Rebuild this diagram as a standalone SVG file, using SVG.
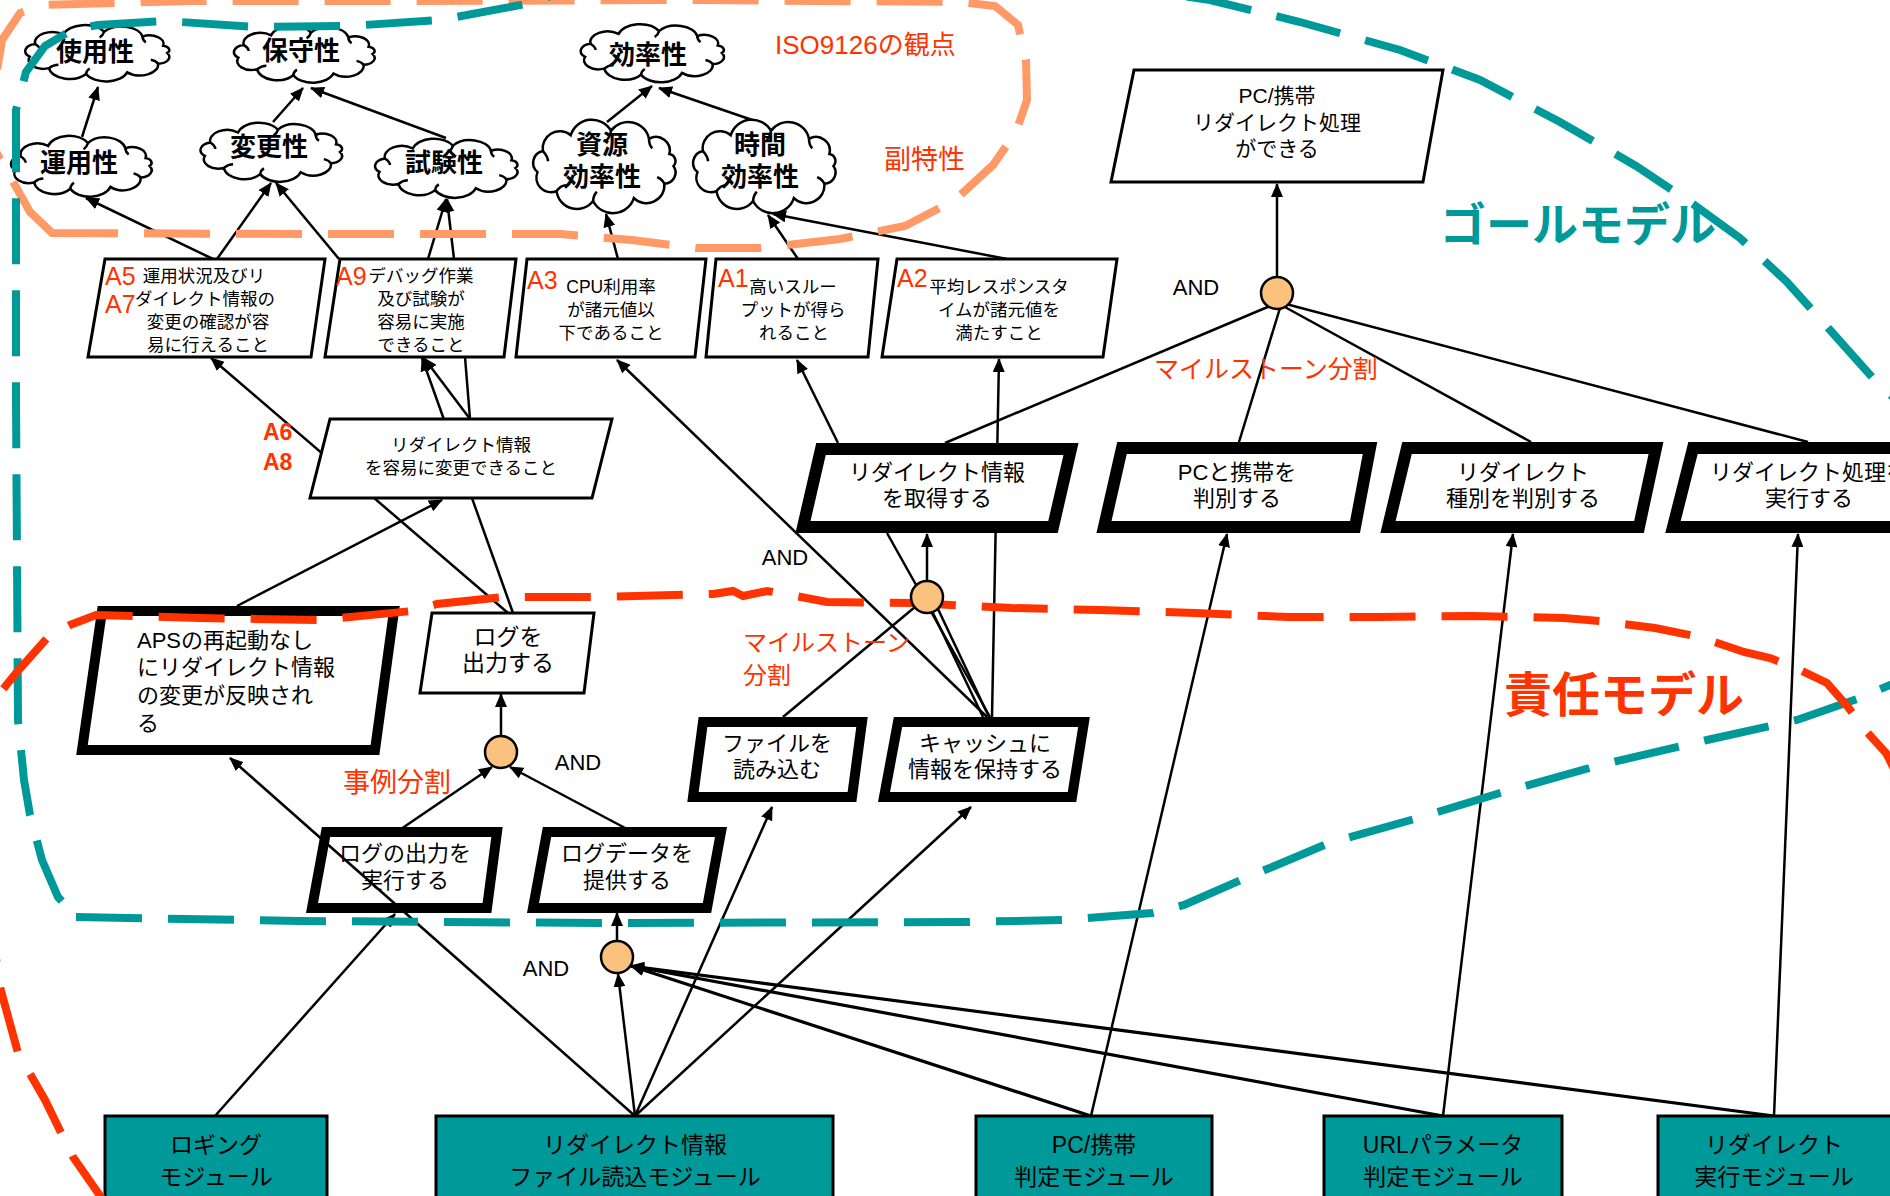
<svg xmlns="http://www.w3.org/2000/svg" width="1890" height="1196" viewBox="0 0 1890 1196">
<defs>
<style>
text{font-family:"Liberation Sans","Noto Sans CJK JP",sans-serif;fill:#000}
.m{text-anchor:middle}
.cl{font-size:26px;font-weight:bold}
.s17{font-size:17.5px}
.s21{font-size:21px}
.s22{font-size:22px}
.s23{font-size:23px}
.and{font-size:22px;text-anchor:middle}
.red{fill:#FF3300}
.al{font-size:25px;fill:#FF3300}
.ln{fill:none;stroke:#000;stroke-width:2.5}
.lw{fill:none;stroke:#000;stroke-width:3.2}
.a{marker-end:url(#arr)}
.cloud{fill:#fff;stroke:#000;stroke-width:2.5}
.thin{fill:#fff;stroke:#000;stroke-width:3}
.thick{fill:#fff;stroke:#000;stroke-width:12}
.thick2{fill:#fff;stroke:#000;stroke-width:10}
.mod{fill:#009999;stroke:#000;stroke-width:3}
.andc{fill:#FAC27C;stroke:#000;stroke-width:2.5}
.dash{fill:none;stroke-width:8;stroke-dasharray:66 26}
</style>
<marker id="arr" viewBox="0 0 14 12" refX="13" refY="6" markerWidth="14" markerHeight="12" markerUnits="userSpaceOnUse" orient="auto"><path d="M0,0L14,6L0,12z" fill="#000"/></marker>
<path id="cp" vector-effect="non-scaling-stroke" d="M42,0 A7,7 0 0 1 36.4,11 A11,11 0 0 1 17.7,19.9 A13.5,13.5 0 0 1 -7.3,21.7 A12.5,12.5 0 0 1 -29.7,15.6 A9,9 0 0 1 -41.4,3.8 A7.5,7.5 0 0 1 -38.1,-9.3 A10.5,10.5 0 0 1 -21,-19.1 A13.5,13.5 0 0 1 3.7,-21.9 A13,13 0 0 1 27,-16.9 A8.5,8.5 0 0 1 39.5,-7.5 A4.5,4.5 0 0 1 42,0 Z"/>
<path id="cc" vector-effect="non-scaling-stroke" fill="none" d="M36.4,11 Q35,8 32,7 M-29.7,15.6 Q-27,12 -24,12 M-38.1,-9.3 Q-35,-6 -35,-3 M-7.3,21.7 Q-7,18 -5,16 M3.7,-21.9 Q3,-18 1,-16 M27,-16.9 Q27,-13 29,-11"/>
</defs>
<rect width="1890" height="1196" fill="#fff"/>

<g id="connectors">
<path class="ln a" d="M82,137L98,87"/>
<path class="ln a" d="M273,122L303,88"/>
<path class="ln a" d="M446,138L311,88"/>
<path class="ln a" d="M607,122L652,86"/>
<path class="ln a" d="M761,123L659,88"/>
<path class="ln a" d="M213,259L86,198"/>
<path class="ln a" d="M217,259L271,183"/>
<path class="ln a" d="M339,259L276,183"/>
<path class="ln a" d="M428,259L446,199"/>
<path class="ln a" d="M454,259L447,199"/>
<path class="ln a" d="M618,259L606,214"/>
<path class="ln a" d="M798,259L768,215"/>
<path class="ln a" d="M1007,259L773,214"/>
<path class="ln a" d="M508,613L211,358"/>
<path class="ln a" d="M513,613L422,358"/>
<path class="ln a" d="M470,419L424,358"/>
<path class="ln" d="M470,419L465,357"/>
<path class="ln a" d="M237,606L442,500"/>
<path class="ln a" d="M987,717L617,360"/>
<path class="ln a" d="M992,717L999,359"/>
<path class="ln a" d="M838,443L797,360"/>
<path class="ln" d="M945,443L1270,306"/>
<path class="ln" d="M1280,308L1239,442"/>
<path class="ln" d="M1283,306L1531,442"/>
<path class="ln" d="M1286,304L1808,442"/>
<path class="ln a" d="M1277,277L1277,184"/>
<path class="ln a" d="M927,581L927,534"/>
<path class="ln" d="M783,717L915,607"/>
<path class="ln" d="M983,717L932,611"/>
<path class="ln" d="M989,717L938,609"/>
<path class="ln" d="M990,717L887,533"/>
<path class="ln a" d="M501,736L501,694"/>
<path class="ln a" d="M401,829L492,767"/>
<path class="ln a" d="M627,829L510,767"/>
<path class="ln a" d="M617,941L617,913"/>
<path class="ln a" d="M215,1116L395,914"/>
<path class="ln a" d="M635,1116L618,974"/>
<path class="ln a" d="M635,1116L772,807"/>
<path class="ln a" d="M635,1116L971,807"/>
<path class="ln a" d="M1091,1116L1227,534"/>
<path class="lw a" d="M1091,1116L631,966"/>
<path class="ln a" d="M1443,1116L1513,534"/>
<path class="lw a" d="M1443,1116L631,966"/>
<path class="ln a" d="M1774,1116L1798,534"/>
<path class="lw a" d="M1774,1116L631,966"/>
</g>

<g id="n-shiyousei"><g transform="translate(98,53) scale(1.65,0.97)"><use href="#cp" class="cloud"/><use href="#cc" class="cloud"/></g><text class="cl m" x="95" y="61">使用性</text></g>
<g id="n-hoshusei"><g transform="translate(305,54) scale(1.61,0.98)"><use href="#cp" class="cloud"/><use href="#cc" class="cloud"/></g><text class="cl m" x="301" y="60">保守性</text></g>
<g id="n-kouritsusei"><g transform="translate(653,53) scale(1.64,1.0)"><use href="#cp" class="cloud"/><use href="#cc" class="cloud"/></g><text class="cl m" x="648" y="64">効率性</text></g>
<g id="n-unyousei"><g transform="translate(82,166) scale(1.61,1.05)"><use href="#cp" class="cloud"/><use href="#cc" class="cloud"/></g><text class="cl m" x="79" y="172">運用性</text></g>
<g id="n-henkousei"><g transform="translate(272,152) scale(1.62,1.02)"><use href="#cp" class="cloud"/><use href="#cc" class="cloud"/></g><text class="cl m" x="269" y="156">変更性</text></g>
<g id="n-shikensei"><g transform="translate(447,168) scale(1.63,1.02)"><use href="#cp" class="cloud"/><use href="#cc" class="cloud"/></g><text class="cl m" x="444" y="172">試験性</text></g>
<g id="n-shigen"><g transform="translate(605,166) scale(1.63,1.61)"><use href="#cp" class="cloud"/><use href="#cc" class="cloud"/></g><text class="cl m" x="602" y="154">資源</text><text class="cl m" x="602" y="186">効率性</text></g>
<g id="n-jikan"><g transform="translate(765,166) scale(1.63,1.61)"><use href="#cp" class="cloud"/><use href="#cc" class="cloud"/></g><text class="cl m" x="760" y="154">時間</text><text class="cl m" x="760" y="186">効率性</text></g>

<g id="n-a5a7"><polygon class="thin" points="105,259 325,259 311,357 88,357"/>
<text class="s17 m" x="204" y="282">運用状況及びリ</text><text class="s17 m" x="205" y="305">ダイレクト情報の</text><text class="s17 m" x="208" y="328">変更の確認が容</text><text class="s17 m" x="208" y="351">易に行えること</text>
<text class="al" x="105" y="285">A5</text><text class="al" x="105" y="313">A7</text></g>
<g id="n-a9"><polygon class="thin" points="340,259 516,259 504,357 325,357"/>
<text class="s17 m" x="421" y="282">デバッグ作業</text><text class="s17 m" x="421" y="305">及び試験が</text><text class="s17 m" x="421" y="328">容易に実施</text><text class="s17 m" x="421" y="351">できること</text>
<text class="al" x="336" y="285">A9</text></g>
<g id="n-a3"><polygon class="thin" points="527,259 706,259 695,357 516,357"/>
<text class="s17 m" x="611" y="293">CPU利用率</text><text class="s17 m" x="611" y="316">が諸元値以</text><text class="s17 m" x="611" y="339">下であること</text>
<text class="al" x="527" y="289">A3</text></g>
<g id="n-a1"><polygon class="thin" points="716,259 878,259 868,357 706,357"/>
<text class="s17 m" x="793" y="293">高いスルー</text><text class="s17 m" x="793" y="316">プットが得ら</text><text class="s17 m" x="794" y="339">れること</text>
<text class="al" x="718" y="287">A1</text></g>
<g id="n-a2"><polygon class="thin" points="897,259 1117,259 1103,357 882,357"/>
<text class="s17 m" x="999" y="293">平均レスポンスタ</text><text class="s17 m" x="999" y="316">イムが諸元値を</text><text class="s17 m" x="999" y="339">満たすこと</text>
<text class="al" x="897" y="287">A2</text></g>

<g id="n-goal"><polygon class="thin" points="1134,70 1443,70 1423,182 1111,182"/>
<text class="s21 m" x="1277" y="103">PC/携帯</text><text class="s21 m" x="1277" y="130">リダイレクト処理</text><text class="s21 m" x="1277" y="156">ができる</text></g>

<g id="n-henkou"><polygon class="thin" points="330,419 612,419 592,498 310,498"/>
<text class="s17 m" x="461" y="451">リダイレクト情報</text><text class="s17 m" x="461" y="474">を容易に変更できること</text></g>

<g id="n-shutoku"><polygon class="thick" points="821,449 1071,449 1053,527 803,527"/>
<text class="s22 m" x="937" y="480">リダイレクト情報</text><text class="s22 m" x="937" y="506">を取得する</text></g>
<g id="n-pchanbetsu"><polygon class="thick" points="1122,448 1370,448 1355,527 1104,527"/>
<text class="s22 m" x="1237" y="480">PCと携帯を</text><text class="s22 m" x="1237" y="506">判別する</text></g>
<g id="n-shubetsu"><polygon class="thick" points="1407,448 1656,448 1639,527 1388,527"/>
<text class="s22 m" x="1523" y="480">リダイレクト</text><text class="s22 m" x="1523" y="506">種別を判別する</text></g>
<g id="n-jikkou"><polygon class="thick" points="1693,448 1910,448 1900,527 1673,527"/>
<text class="s22 m" x="1809" y="480">リダイレクト処理を</text><text class="s22 m" x="1809" y="506">実行する</text></g>

<g id="n-aps"><polygon class="thick2" points="102,611 394,611 375,750 82,750"/>
<text class="s22" x="137" y="648">APSの再起動なし</text><text class="s22" x="137" y="675">にリダイレクト情報</text><text class="s22" x="137" y="703">の変更が反映され</text><text class="s22" x="137" y="731">る</text></g>
<g id="n-logout"><polygon class="thin" points="432,613 594,613 584,693 420,693"/>
<text class="s23 m" x="508" y="645">ログを</text><text class="s23 m" x="508" y="671">出力する</text></g>
<g id="n-file"><polygon class="thick2" points="703,722 862,722 852,797 693,797"/>
<text class="s22 m" x="777" y="751">ファイルを</text><text class="s22 m" x="777" y="777">読み込む</text></g>
<g id="n-cache"><polygon class="thick2" points="898,722 1084,722 1072,797 884,797"/>
<text class="s22 m" x="985" y="751">キャッシュに</text><text class="s22 m" x="985" y="777">情報を保持する</text></g>
<g id="n-logexec"><polygon class="thick2" points="326,832 497,832 487,908 312,908"/>
<text class="s22 m" x="405" y="861">ログの出力を</text><text class="s22 m" x="405" y="888">実行する</text></g>
<g id="n-logdata"><polygon class="thick2" points="547,832 721,832 707,908 533,908"/>
<text class="s22 m" x="627" y="861">ログデータを</text><text class="s22 m" x="627" y="888">提供する</text></g>

<g id="n-logging"><rect class="mod" x="105" y="1116" width="222" height="100"/>
<text class="s23 m" x="216" y="1153">ロギング</text><text class="s23 m" x="216" y="1185">モジュール</text></g>
<g id="n-yomikomi"><rect class="mod" x="436" y="1116" width="397" height="100"/>
<text class="s23 m" x="635" y="1153">リダイレクト情報</text><text class="s23 m" x="635" y="1185">ファイル読込モジュール</text></g>
<g id="n-pcmod"><rect class="mod" x="976" y="1116" width="236" height="100"/>
<text class="s23 m" x="1094" y="1153">PC/携帯</text><text class="s23 m" x="1094" y="1185">判定モジュール</text></g>
<g id="n-urlmod"><rect class="mod" x="1324" y="1116" width="238" height="100"/>
<text class="s23 m" x="1443" y="1153">URLパラメータ</text><text class="s23 m" x="1443" y="1185">判定モジュール</text></g>
<g id="n-execmod"><rect class="mod" x="1658" y="1116" width="250" height="100"/>
<text class="s23 m" x="1774" y="1153">リダイレクト</text><text class="s23 m" x="1774" y="1185">実行モジュール</text></g>

<g id="connectors-over">
<path class="ln a" d="M635,1116L230,758"/>
</g>

<g id="regions">
<path class="dash" stroke="#FF9966" d="M52,233 L300,234 L560,234 L632,240 L696,248 L760,248 L840,239 L905,226 L955,200 L993,165 L1016,132 L1027,100 L1026,60 L1018,25 L995,6 L960,2 L700,0 L400,1 L189,1 L44,5 L20,13 L2,40 L-8,100 L-5,150 L16,187 L30,212 Z"/>
<path class="dash" stroke="#009999" d="M76,917 L300,921 L600,923 L964,922 L1064,920 L1152,913 L1184,905 L1241,880 L1329,843 L1418,818 L1500,793 L1600,765 L1707,740 L1797,720 L1860,698 L1920,672 L1950,500 L1920,420 L1880,386 L1830,330 L1787,282 L1740,238 L1693,204 L1636,166 L1560,122 L1480,80 L1400,50 L1300,22 L1210,0 L1000,-30 L600,-20 L526,4 L440,20 L349,26 L257,27 L165,21 L98,25 L72,30 L45,46 L26,72 L16,110 L16,400 L18,720 L24,780 L30,815 L42,860 L58,897 Z"/>
<path class="dash" stroke="#FF3300" d="M110,1210 L73,1157 L45,1100 L18,1053 L0,987 L-12,900 L-12,760 L0,693 L16,673 L48,637 L70,625 L96,615 L200,618 L320,620 L412,611 L437,604 L503,597 L600,597 L713,594 L733,591 L743,596 L767,591 L780,593 L827,602 L913,603 L1012,608 L1100,610 L1195,613 L1288,617 L1379,617 L1473,616 L1564,618 L1600,621 L1655,628 L1700,637 L1744,652 L1770,658 L1800,670 L1827,683 L1848,707 L1865,730 L1886,753 L1910,800"/>
</g>

<g id="and-nodes">
<g id="and-goal"><circle class="andc" cx="1277" cy="293" r="16"/></g>
<g id="and-mid"><circle class="andc" cx="927" cy="597" r="16"/></g>
<g id="and-log"><circle class="andc" cx="501" cy="752" r="16"/></g>
<g id="and-bottom"><circle class="andc" cx="617" cy="957" r="16"/></g>
</g>

<g id="labels">
<text class="and" x="1196" y="295">AND</text>
<text class="and" x="785" y="565">AND</text>
<text class="and" x="578" y="770">AND</text>
<text class="and" x="546" y="976">AND</text>
<text class="red" style="font-size:26px" x="775" y="54">ISO9126の観点</text>
<text class="red" style="font-size:27px" x="884" y="169">副特性</text>
<text class="red m" style="font-size:25px" x="1266" y="378">マイルストーン分割</text>
<text class="red" style="font-size:24px" x="743" y="651">マイルストーン</text>
<text class="red" style="font-size:24px" x="743" y="684">分割</text>
<text class="red" style="font-size:27px" x="343" y="792">事例分割</text>
<text class="red" style="font-size:23px;font-weight:bold" x="263" y="440">A6</text>
<text class="red" style="font-size:23px;font-weight:bold" x="263" y="470">A8</text>
<text style="font-size:46px;font-weight:bold;fill:#009999" x="1440" y="241">ゴールモデル</text>
<text class="red" style="font-size:48px;font-weight:bold" x="1504" y="712">責任モデル</text>
</g>
</svg>
